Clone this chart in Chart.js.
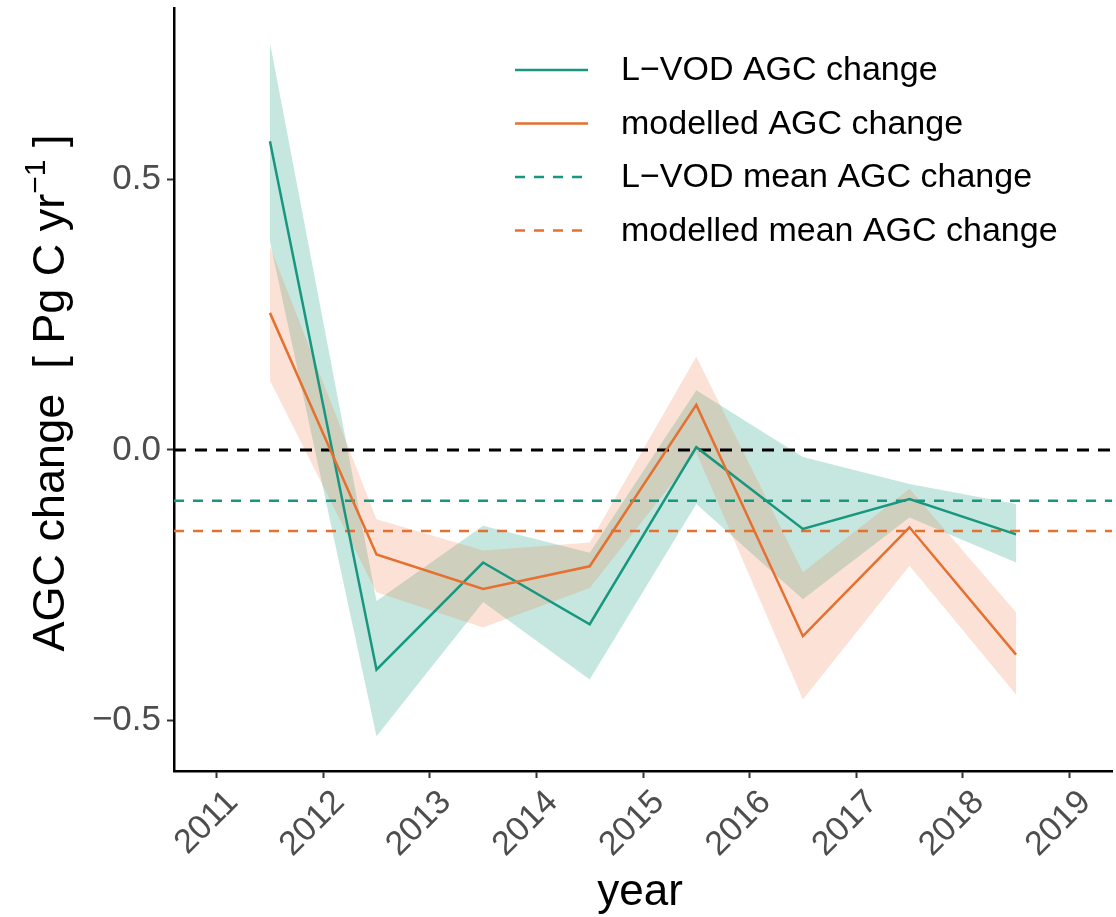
<!DOCTYPE html>
<html>
<head>
<meta charset="utf-8">
<title>AGC change</title>
<script src="https://cdn.jsdelivr.net/npm/chart.js@4.4.1/dist/chart.umd.min.js"></script>
<style>
    html, body { margin: 0; padding: 0; background: #fff; }
    #wrap { width: 1116px; height: 917px; position: relative; }
</style>
</head>
<body>
<div id="wrap"><canvas id="chart"></canvas></div>
<script>
const years = [2011.5, 2012.5, 2013.5, 2014.5, 2015.5, 2016.5, 2017.5, 2018.5];

const lvodChange = [0.570, -0.406, -0.208, -0.322, 0.005, -0.146, -0.091, -0.156];
const lvodUpper = [0.752, -0.279, -0.140, -0.190, 0.110, -0.013, -0.063, -0.100];
const lvodLower = [0.385, -0.529, -0.281, -0.424, -0.100, -0.276, -0.125, -0.208];

const modelChange = [0.253, -0.193, -0.257, -0.215, 0.083, -0.344, -0.143, -0.378];
const modelUpper = [0.376, -0.128, -0.186, -0.171, 0.172, -0.226, -0.072, -0.300];
const modelLower = [0.128, -0.263, -0.328, -0.255, -0.005, -0.461, -0.214, -0.452];

const lvodMean = -0.094;
const modelMean = -0.150;

const xTicks = [2011, 2012, 2013, 2014, 2015, 2016, 2017, 2018, 2019];
const yTicks = [-0.5, 0.0, 0.5];
const xRange = [2010.6, 2019.4];
const yRange = [-0.593, 0.816];

const legendLabels = ['L\u2212VOD AGC change', 'modelled AGC change', 'L\u2212VOD mean AGC change', 'modelled mean AGC change'];

const TEAL = '#17977f';
const ORANGE = '#e5702f';
const FONT = '"Liberation Sans", Arial, sans-serif';

function pts(ys) {
    return years.map(function (x, i) { return { x: x, y: ys[i] }; });
}

function hline(y) {
    return [{ x: xRange[0], y: y }, { x: xRange[1], y: y }];
}

const decorPlugin = {
    id: 'decor',
    afterDraw: function (chart) {
        const ctx = chart.ctx;
        const xScale = chart.scales.x;
        ctx.save();

        // rotated year labels, anchored at their top-right corner like ggplot hjust=1
        ctx.font = '34px ' + FONT;
        ctx.fillStyle = '#4d4d4d';
        ctx.textAlign = 'right';
        ctx.textBaseline = 'top';
        xTicks.forEach(function (v) {
            ctx.save();
            ctx.translate(xScale.getPixelForValue(v) + 4, chart.chartArea.bottom + 14);
            ctx.rotate(-Math.PI / 4);
            ctx.fillText(String(v), 0, 0);
            ctx.restore();
        });

        // legend
        const styles = [
            { color: TEAL, dash: [] },
            { color: ORANGE, dash: [] },
            { color: TEAL, dash: [10, 9] },
            { color: ORANGE, dash: [10, 9] }
        ];
        ctx.font = '34px ' + FONT;
        ctx.textBaseline = 'middle';
        ctx.textAlign = 'left';
        styles.forEach(function (s, i) {
            const y = 70 + i * 53.5;
            ctx.beginPath();
            ctx.setLineDash(s.dash);
            ctx.strokeStyle = s.color;
            ctx.lineWidth = 2.5;
            ctx.moveTo(515, y);
            ctx.lineTo(588, y);
            ctx.stroke();
            ctx.fillStyle = '#000';
            ctx.fillText(legendLabels[i], 621, y + 1);
        });
        ctx.setLineDash([]);

        // x title
        ctx.font = '44px ' + FONT;
        ctx.textAlign = 'center';
        ctx.textBaseline = 'alphabetic';
        ctx.fillStyle = '#000';
        ctx.fillText('year', 640, 905);

        // y title with superscript
        const main = 'AGC change  [ Pg C yr';
        const sup = '\u22121';
        const tail = ' ]';
        ctx.font = '45px ' + FONT;
        const w1 = ctx.measureText(main).width;
        const w3 = ctx.measureText(tail).width;
        ctx.font = '30px ' + FONT;
        const w2 = ctx.measureText(sup).width;
        const total = w1 + w2 + w3;
        ctx.translate(64, 393);
        ctx.rotate(-Math.PI / 2);
        ctx.textAlign = 'left';
        let x = -total / 2;
        ctx.font = '45px ' + FONT;
        ctx.fillText(main, x, 0);
        x += w1;
        ctx.font = '30px ' + FONT;
        ctx.fillText(sup, x, -19);
        x += w2;
        ctx.font = '45px ' + FONT;
        ctx.fillText(tail, x, 0);

        ctx.restore();
    }
};

const ctx = document.getElementById('chart').getContext('2d');

new Chart(ctx, {
    type: 'line',
    data: {
        datasets: [
            {
                data: pts(lvodUpper), borderWidth: 0, pointRadius: 0,
                backgroundColor: 'rgba(27,158,130,0.25)', fill: '+1', order: 10
            },
            { data: pts(lvodLower), borderWidth: 0, pointRadius: 0, fill: false, order: 10 },
            {
                data: pts(modelUpper), borderWidth: 0, pointRadius: 0,
                backgroundColor: 'rgba(240,110,50,0.2)', fill: '+1', order: 9
            },
            { data: pts(modelLower), borderWidth: 0, pointRadius: 0, fill: false, order: 9 },
            { data: pts(lvodChange), borderColor: TEAL, borderWidth: 2.5, pointRadius: 0, fill: false, order: 3 },
            { data: pts(modelChange), borderColor: ORANGE, borderWidth: 2.5, pointRadius: 0, fill: false, order: 2 },
            { data: hline(lvodMean), borderColor: TEAL, borderWidth: 2.5, borderDash: [10, 9], pointRadius: 0, fill: false, order: 5 },
            { data: hline(modelMean), borderColor: ORANGE, borderWidth: 2.5, borderDash: [10, 9], pointRadius: 0, fill: false, order: 5 },
            { data: hline(0), borderColor: '#000', borderWidth: 3, borderDash: [12, 9], pointRadius: 0, fill: false, order: 4 }
        ]
    },
    options: {
        responsive: true,
        maintainAspectRatio: false,
        animation: false,
        layout: { padding: { top: 8, right: 4, left: 0, bottom: 0 } },
        plugins: {
            legend: { display: false },
            tooltip: { enabled: false }
        },
        scales: {
            x: {
                type: 'linear',
                min: xRange[0],
                max: xRange[1],
                afterBuildTicks: function (scale) {
                    scale.ticks = xTicks.map(function (v) { return { value: v }; });
                },
                afterFit: function (scale) {
                    scale.height = 146;
                    scale.paddingLeft = 0;
                    scale.paddingRight = 0;
                },
                grid: { drawOnChartArea: false, drawTicks: true, tickLength: 7, tickWidth: 2, tickColor: '#333' },
                border: { display: true, color: '#000', width: 2.5 },
                ticks: { display: false, autoSkip: false }
            },
            y: {
                type: 'linear',
                min: yRange[0],
                max: yRange[1],
                afterBuildTicks: function (scale) {
                    scale.ticks = yTicks.map(function (v) { return { value: v }; });
                },
                afterFit: function (scale) {
                    scale.width = 174;
                    scale.paddingTop = 0;
                    scale.paddingBottom = 0;
                },
                grid: { drawOnChartArea: false, drawTicks: true, tickLength: 7, tickWidth: 2, tickColor: '#333' },
                border: { display: true, color: '#000', width: 2.5 },
                ticks: {
                    padding: 6,
                    color: '#4d4d4d',
                    font: { family: FONT, size: 35 },
                    callback: function (v) { return v === 0 ? '0.0' : (v < 0 ? '\u2212' : '') + Math.abs(v).toFixed(1); }
                }
            }
        }
    },
    plugins: [decorPlugin]
});
</script>
</body>
</html>
